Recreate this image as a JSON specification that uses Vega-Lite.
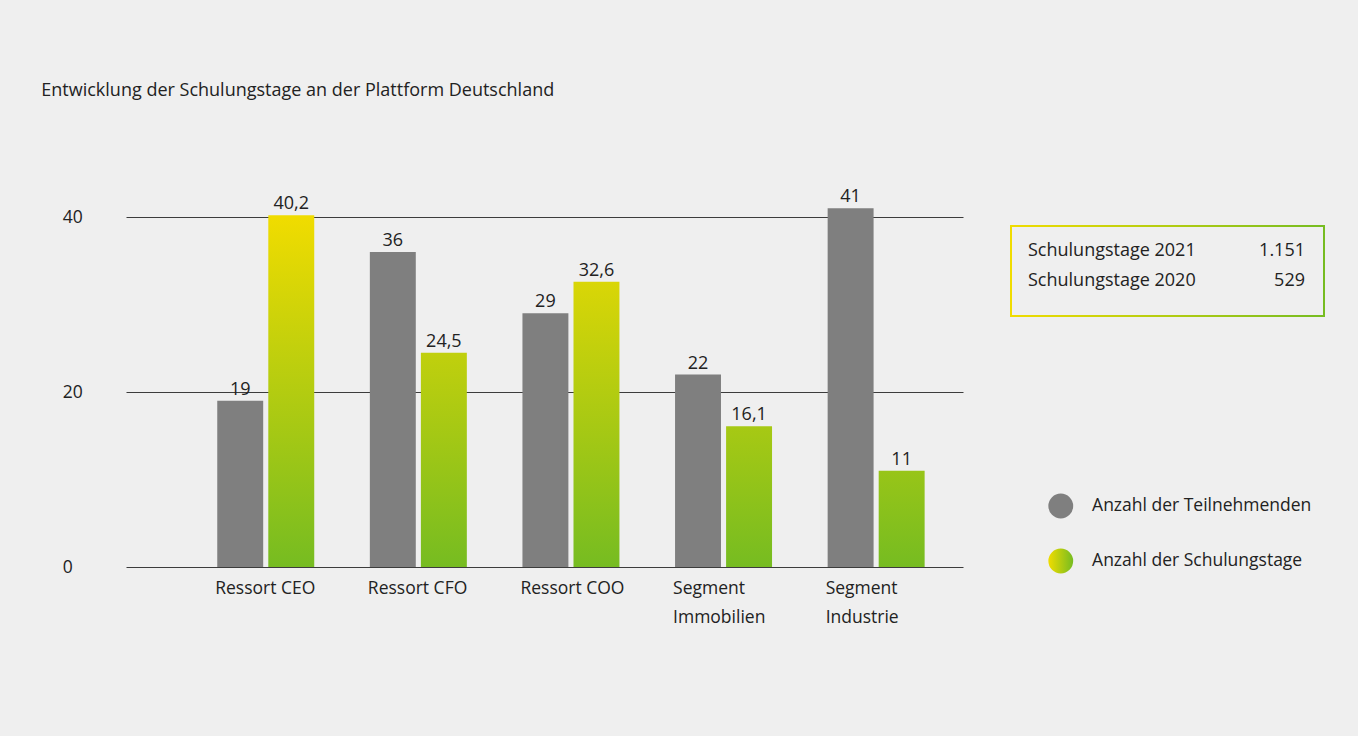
{
  "$schema": "https://vega.github.io/schema/vega-lite/v6.json",
  "background": "#efefef",
  "padding": {"left": 41, "top": 82, "right": 40, "bottom": 120},
  "title": {"text": "Entwicklung der Schulungstage an der Plattform Deutschland", "anchor": "start", "dx": -21, "fontSize": 18, "fontWeight": "normal", "color": "#222222", "font": "Open Sans", "offset": 88},
  "config": {"font": "Open Sans", "view": {"stroke": null}},
  "bounds": "flush",
  "spacing": 48,
  "hconcat": [
    {
      "width": 837,
      "height": 350,
      "data": {"values": [
        {"cat": "Ressort CEO", "series": "T", "value": 19, "label": "19"},
        {"cat": "Ressort CEO", "series": "S", "value": 40.2, "label": "40,2"},
        {"cat": "Ressort CFO", "series": "T", "value": 36, "label": "36"},
        {"cat": "Ressort CFO", "series": "S", "value": 24.5, "label": "24,5"},
        {"cat": "Ressort COO", "series": "T", "value": 29, "label": "29"},
        {"cat": "Ressort COO", "series": "S", "value": 32.6, "label": "32,6"},
        {"cat": "Segment Immobilien", "series": "T", "value": 22, "label": "22"},
        {"cat": "Segment Immobilien", "series": "S", "value": 16.1, "label": "16,1"},
        {"cat": "Segment Industrie", "series": "T", "value": 41, "label": "41"},
        {"cat": "Segment Industrie", "series": "S", "value": 11, "label": "11"}
      ]},
      "encoding": {
        "x": {"field": "cat", "type": "nominal", "sort": null,
          "scale": {"paddingInner": 0.3644, "paddingOuter": 0.4247, "align": 0.704},
          "axis": {"title": null, "labelAngle": 0, "labelAlign": "left", "labelOffset": -50.5, "labelPadding": 12, "labelLineHeight": 29, "labelFontSize": 17.5, "labelColor": "#222222", "ticks": false, "domain": false, "grid": false,
            "labelExpr": "indexof(datum.label, 'Segment') == 0 ? split(datum.label, ' ') : datum.label"}},
        "xOffset": {"field": "series", "type": "nominal", "sort": ["T", "S"], "scale": {"paddingInner": 0.1, "paddingOuter": 0}},
        "y": {"field": "value", "type": "quantitative",
          "scale": {"domain": [0, 40], "nice": false},
          "axis": {"title": null, "values": [0, 20, 40], "grid": true, "gridColor": "#3c3c3c", "gridOpacity": 1, "gridWidth": 1, "domain": false, "ticks": false, "labelAlign": "left", "labelPadding": 63.7, "labelFontSize": 17.5, "labelColor": "#222222"}}
      },
      "layer": [
        {"mark": {"type": "bar", "fill": {"expr": "datum.series == 'T' ? '#7f7f7f' : {gradient: 'linear', x1: 0, x2: 0, y1: 1 - 40 / datum.value, y2: 1, stops: [{offset: 0, color: '#f0dc00'}, {offset: 1, color: '#76bc21'}]}"}}},
        {"mark": {"type": "text", "baseline": "alphabetic", "dy": -6, "fontSize": 18, "color": "#222222"},
          "encoding": {"text": {"field": "label"}}}
      ]
    },
    {
      "bounds": "flush",
      "spacing": 8,
      "vconcat": [
        {
          "width": 313,
          "height": 1,
          "data": {"values": []},
          "mark": {"type": "text"},
          "encoding": {}
        },
        {
          "bounds": "flush",
          "spacing": 190,
          "vconcat": [
            {
              "width": 313,
              "height": 90,
              "layer": [
                {
                  "data": {"values": [{"box": "info"}]},
                  "mark": {"type": "rect", "fill": null, "strokeWidth": 2,
                    "stroke": {"gradient": "linear", "x1": 0, "x2": 1, "y1": 0, "y2": 0, "stops": [{"offset": 0, "color": "#f0dc00"}, {"offset": 1, "color": "#76bc21"}]}},
                  "encoding": {}
                },
                {
                  "data": {"values": [
                    {"row": 1, "label": "Schulungstage 2021", "num": "1.151"},
                    {"row": 2, "label": "Schulungstage 2020", "num": "529"}
                  ]},
                  "encoding": {
                    "y": {"field": "row", "type": "ordinal", "scale": {"type": "point", "padding": 1.052}, "axis": null}
                  },
                  "layer": [
                    {"mark": {"type": "text", "align": "left", "baseline": "middle", "dx": 17, "dy": -5, "fontSize": 18, "color": "#222222"},
                      "encoding": {"x": {"datum": 0, "type": "quantitative", "scale": {"domain": [0, 1], "nice": false}, "axis": null}, "text": {"field": "label"}}},
                    {"mark": {"type": "text", "align": "right", "baseline": "middle", "dx": -19, "dy": -5, "fontSize": 18, "color": "#222222"},
                      "encoding": {"x": {"datum": 1, "type": "quantitative", "scale": {"domain": [0, 1], "nice": false}, "axis": null}, "text": {"field": "num"}}}
                  ]
                }
              ]
            },
            {
              "width": 313,
              "height": 55,
              "data": {"values": [
                {"order": 1, "series": "T", "name": "Anzahl der Teilnehmenden"},
                {"order": 2, "series": "S", "name": "Anzahl der Schulungstage"}
              ]},
              "encoding": {
                "y": {"field": "order", "type": "ordinal", "scale": {"type": "point", "padding": 0}, "axis": null},
                "x": {"datum": 0.159, "type": "quantitative", "scale": {"domain": [0, 1], "nice": false}, "axis": null}
              },
              "layer": [
                {"mark": {"type": "point", "shape": "circle", "size": 616, "strokeWidth": 0, "opacity": 1,
                  "fill": {"expr": "datum.series == 'T' ? '#7f7f7f' : {gradient: 'linear', x1: 0, x2: 1, y1: 0, y2: 0, stops: [{offset: 0, color: '#f0dc00'}, {offset: 1, color: '#76bc21'}]}"}}},
                {"mark": {"type": "text", "align": "left", "baseline": "middle", "dx": 31.3, "fontSize": 17.5, "color": "#222222"},
                  "encoding": {"text": {"field": "name"}}}
              ]
            }
          ]
        }
      ]
    }
  ]
}
